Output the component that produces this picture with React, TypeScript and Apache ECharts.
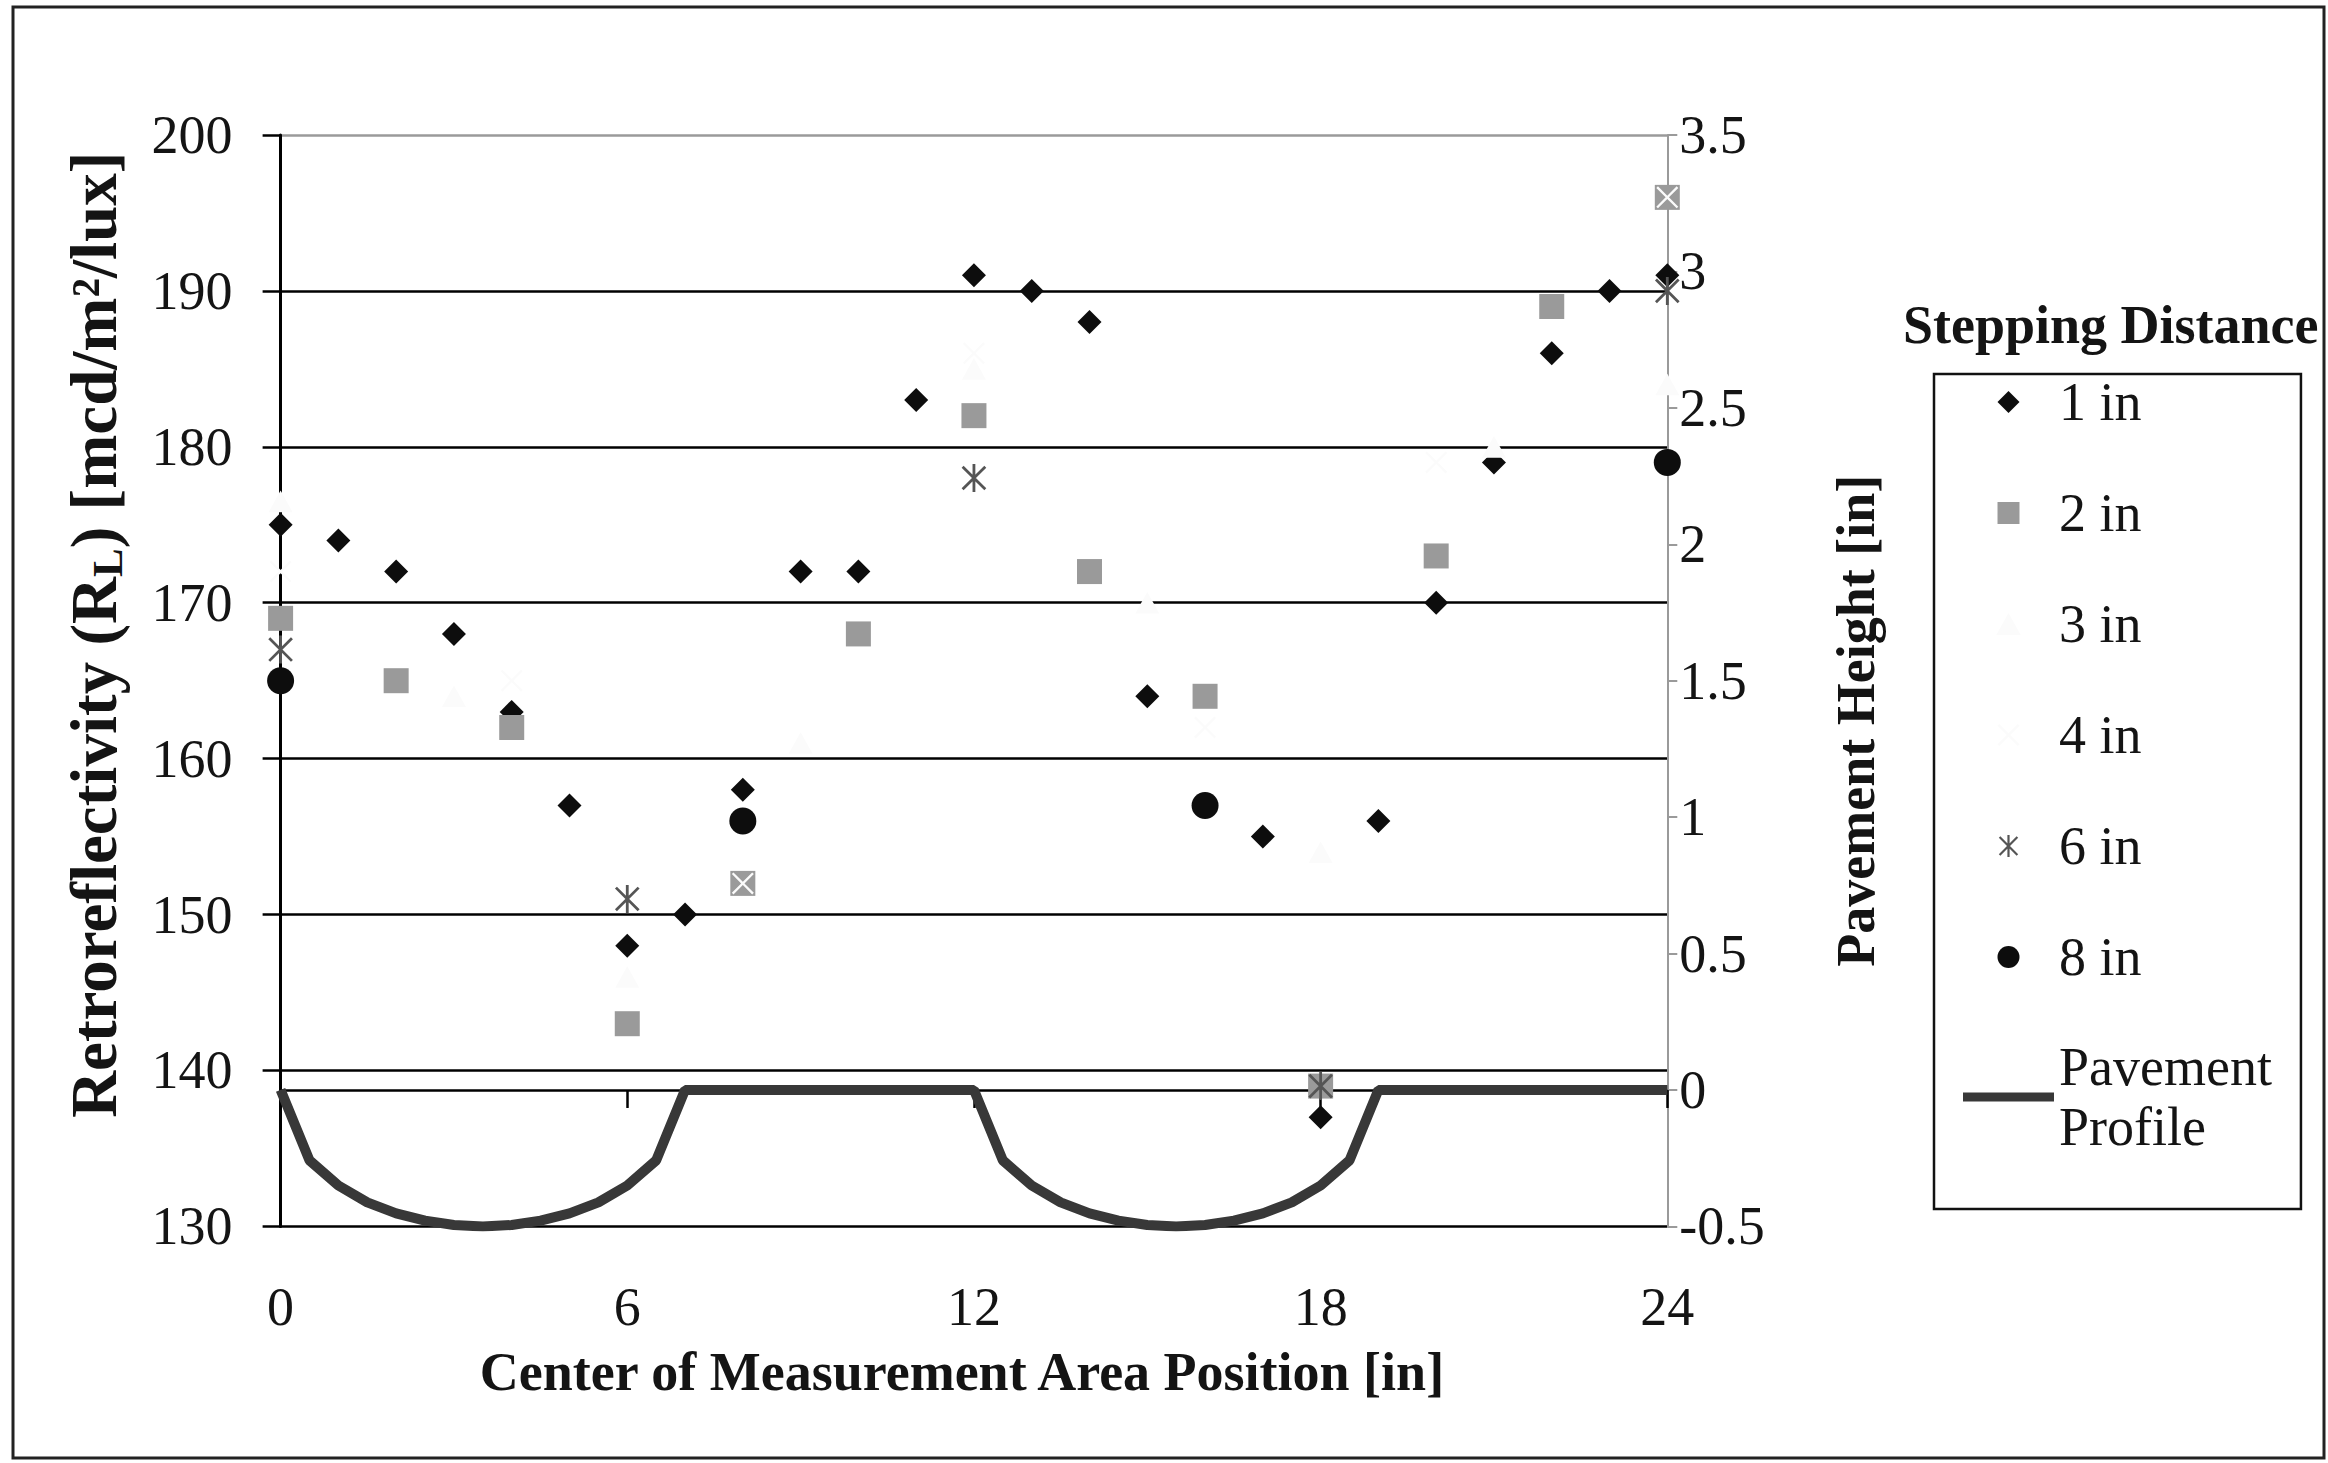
import React, { useEffect, useRef } from 'react';
import * as echarts from 'echarts';

// ---- data ----
const positions1 = [0, 1, 2, 3, 4, 5, 6, 7, 8, 9, 10, 11, 12, 13, 14, 15, 16, 17, 18, 19, 20, 21, 22, 23, 24];
const oneIn = [175, 174, 172, 168, 163, 157, 148, 150, 158, 172, 172, 183, 191, 190, 188, 164, 157, 155, 137, 156, 170, 179, 186, 190, 191];

const positions2 = [0, 2, 4, 6, 8, 10, 12, 14, 16, 18, 20, 22, 24];
const twoIn = [169, 165, 162, 143, 152, 168, 182, 172, 164, 139, 173, 189, 196];

const positions3 = [0, 3, 6, 9, 12, 15, 18, 21, 24];
const threeIn = [176.5, 164, 146, 161, 185, 170, 154, 180, 184];

const positions4 = [0, 4, 8, 12, 16, 20, 24];
const fourIn = [172, 165, 152, 186, 162, 179, 196];

const positions6 = [0, 6, 12, 18, 24];
const sixIn = [167, 151, 178, 139, 190];

const positions8 = [0, 8, 16, 24];
const eightIn = [165, 156, 157, 179];

const profileX = [0, 0.5, 1, 1.5, 2, 2.5, 3, 3.5, 4, 4.5, 5, 5.5, 6, 6.5, 7, 12, 12.5, 13, 13.5, 14, 14.5, 15, 15.5, 16, 16.5, 17, 17.5, 18, 18.5, 19, 24];
const profileH = [0, -0.258, -0.35, -0.412, -0.452, -0.479, -0.495, -0.5, -0.495, -0.479, -0.452, -0.412, -0.35, -0.258, 0, 0, -0.258, -0.35, -0.412, -0.452, -0.479, -0.495, -0.5, -0.495, -0.479, -0.452, -0.412, -0.35, -0.258, 0, 0];

const seriesNames = ['1 in', '2 in', '3 in', '4 in', '6 in', '8 in', 'Pavement Profile'];

const zip = (xs: number[], ys: number[]) => xs.map((x, i) => [x, ys[i]]);

const FONT = "'Liberation Serif', 'Times New Roman', serif";
const INK = '#141414';

const DIAMOND = 'path://M10,0L20,10L10,20L0,10Z';
const SQUARE = 'path://M0,0L20,0L20,20L0,20Z';
const TRIANGLE = 'path://M10,0L20,18L0,18Z';
const CIRCLE = 'path://M10,0A10,10,0,1,1,10,20A10,10,0,1,1,10,0Z';
const ASTERISK = 'path://M9,0L11,0L11,20L9,20Z M1.2,2.6L2.6,1.2L18.8,17.4L17.4,18.8Z M17.4,1.2L18.8,2.6L2.6,18.8L1.2,17.4Z';
const XMARK = 'path://M0,1.5L1.5,0L10,8.5L18.5,0L20,1.5L11.5,10L20,18.5L18.5,20L10,11.5L1.5,20L0,18.5L8.5,10Z';
const LINE_ICON = 'path://M0,0L91,0L91,9L0,9Z';

function buildOption(): any {
  return {
    animation: false,
    backgroundColor: '#ffffff',
    title: {
      text: 'Stepping Distance',
      left: 1903,
      top: 298,
      padding: 0,
      textStyle: { fontFamily: FONT, fontSize: 54, fontWeight: 'bold', color: INK },
    },
    legend: {
      orient: 'vertical',
      left: 1934,
      top: 374,
      padding: [0, 29, 55, 29],
      itemWidth: 91,
      itemHeight: 22,
      itemGap: 55,
      symbolKeepAspect: true,
      selectedMode: false,
      borderColor: '#111',
      borderWidth: 2.5,
      borderRadius: 0,
      textStyle: { fontFamily: FONT, fontSize: 54, color: INK, lineHeight: 56 },
      formatter: (name: string) => (name === 'Pavement Profile' ? 'Pavement\nProfile' : name),
      data: [
        { name: '1 in', icon: DIAMOND },
        { name: '2 in', icon: SQUARE },
        { name: '3 in', icon: TRIANGLE },
        { name: '4 in', icon: XMARK },
        { name: '6 in', icon: ASTERISK },
        { name: '8 in', icon: CIRCLE },
        { name: 'Pavement Profile', icon: LINE_ICON, textStyle: { lineHeight: 60, padding: [0, 0, -60, 0] } },
      ],
    },
    graphic: [
      {
        type: 'rect',
        shape: { x: 13, y: 7, width: 2311, height: 1451 },
        style: { fill: 'none', stroke: '#222', lineWidth: 3 },
        silent: true,
      },
    ],
    grid: { left: 280.6, right: 660.7, top: 135, bottom: 236.6 },
    xAxis: {
      type: 'value',
      min: 0,
      max: 24,
      interval: 6,
      name: 'Center of Measurement Area Position [in]',
      nameLocation: 'middle',
      nameGap: 116,
      nameTextStyle: { fontFamily: FONT, fontSize: 54, fontWeight: 'bold', color: INK, lineHeight: 60, padding: [0, 24, 0, 0] },
      axisLine: { show: true, lineStyle: { color: '#000', width: 2.5 } },
      axisTick: { show: true, length: 18, lineStyle: { color: '#000', width: 2.5 } },
      axisLabel: { fontFamily: FONT, fontSize: 54, color: INK, margin: 54 },
      splitLine: { show: false },
    },
    yAxis: [
      {
        type: 'value',
        min: 130,
        max: 200,
        interval: 10,
        position: 'left',
        name: 'Retroreflectivity (R{sub|L}) [mcd/m²/lux]',
        nameLocation: 'middle',
        nameGap: 152,
        nameTextStyle: {
          fontFamily: FONT, fontSize: 65, fontWeight: 'bold', color: INK, lineHeight: 70,
          padding: [0, 0, 0, 92],
          rich: {
            sub: { fontFamily: FONT, fontSize: 43, fontWeight: 'bold', color: INK, lineHeight: 43, verticalAlign: 'bottom' },
          },
        },
        axisLine: { show: true, lineStyle: { color: '#000', width: 3 } },
        axisTick: { show: true, length: 18, lineStyle: { color: '#000', width: 2.5 } },
        axisLabel: { fontFamily: FONT, fontSize: 54, color: INK, margin: 48 },
        splitLine: {
          show: true,
          lineStyle: { color: ['#000', '#000', '#000', '#000', '#000', '#000', '#000', '#9a9a9a'], width: 2.5 },
        },
      },
      {
        type: 'value',
        min: -0.5,
        max: 3.5,
        interval: 0.5,
        position: 'right',
        name: 'Pavement Height [in]',
        nameLocation: 'middle',
        nameGap: 159,
        nameTextStyle: { fontFamily: FONT, fontSize: 54, fontWeight: 'bold', color: INK, lineHeight: 60, padding: [0, 80, 0, 0] },
        axisLine: { show: true, lineStyle: { color: '#9a9a9a', width: 2 } },
        axisTick: { show: true, length: 10, lineStyle: { color: '#9a9a9a', width: 2 } },
        axisLabel: { fontFamily: FONT, fontSize: 54, color: INK, margin: 12 },
        splitLine: { show: false },
      },
    ],
    series: [
      {
        name: seriesNames[0], type: 'scatter', yAxisIndex: 0,
        symbol: DIAMOND, symbolSize: 24, symbolKeepAspect: true,
        itemStyle: { color: '#0d0d0d', opacity: 1 },
        data: zip(positions1, oneIn),
      },
      {
        name: seriesNames[1], type: 'scatter', yAxisIndex: 0,
        symbol: SQUARE, symbolSize: 25, symbolKeepAspect: true,
        itemStyle: { color: '#9a9a9a', opacity: 1 },
        data: zip(positions2, twoIn),
      },
      {
        name: seriesNames[2], type: 'scatter', yAxisIndex: 0,
        symbol: TRIANGLE, symbolSize: 24, symbolKeepAspect: true,
        itemStyle: { color: '#fbfbfb', opacity: 1 },
        data: zip(positions3, threeIn),
      },
      {
        name: seriesNames[3], type: 'scatter', yAxisIndex: 0,
        symbol: XMARK, symbolSize: 22, symbolKeepAspect: true,
        itemStyle: { color: '#fbfbfb', opacity: 1 },
        data: zip(positions4, fourIn),
      },
      {
        name: seriesNames[4], type: 'scatter', yAxisIndex: 0,
        symbol: ASTERISK, symbolSize: 28, symbolKeepAspect: true,
        itemStyle: { color: '#555555', opacity: 1 },
        data: zip(positions6, sixIn),
      },
      {
        name: seriesNames[5], type: 'scatter', yAxisIndex: 0,
        symbol: CIRCLE, symbolSize: 27, symbolKeepAspect: true,
        itemStyle: { color: '#0d0d0d', opacity: 1 },
        data: zip(positions8, eightIn),
      },
      {
        name: seriesNames[6], type: 'line', yAxisIndex: 1,
        symbol: 'none', showSymbol: false,
        lineStyle: { color: '#383838', width: 10 },
        itemStyle: { color: '#383838' },
        data: zip(profileX, profileH),
      },
    ],
  };
}

export default function App() {
  const ref = useRef<HTMLDivElement>(null);
  useEffect(() => {
    if (!ref.current) return;
    const chart = echarts.init(ref.current, null, { renderer: 'svg' });
    chart.setOption(buildOption());
    return () => chart.dispose();
  }, []);
  return (
    <div
      ref={ref}
      style={{ position: 'fixed', left: 0, top: 0, width: 2328, height: 1463, background: '#fff' }}
    />
  );
}
